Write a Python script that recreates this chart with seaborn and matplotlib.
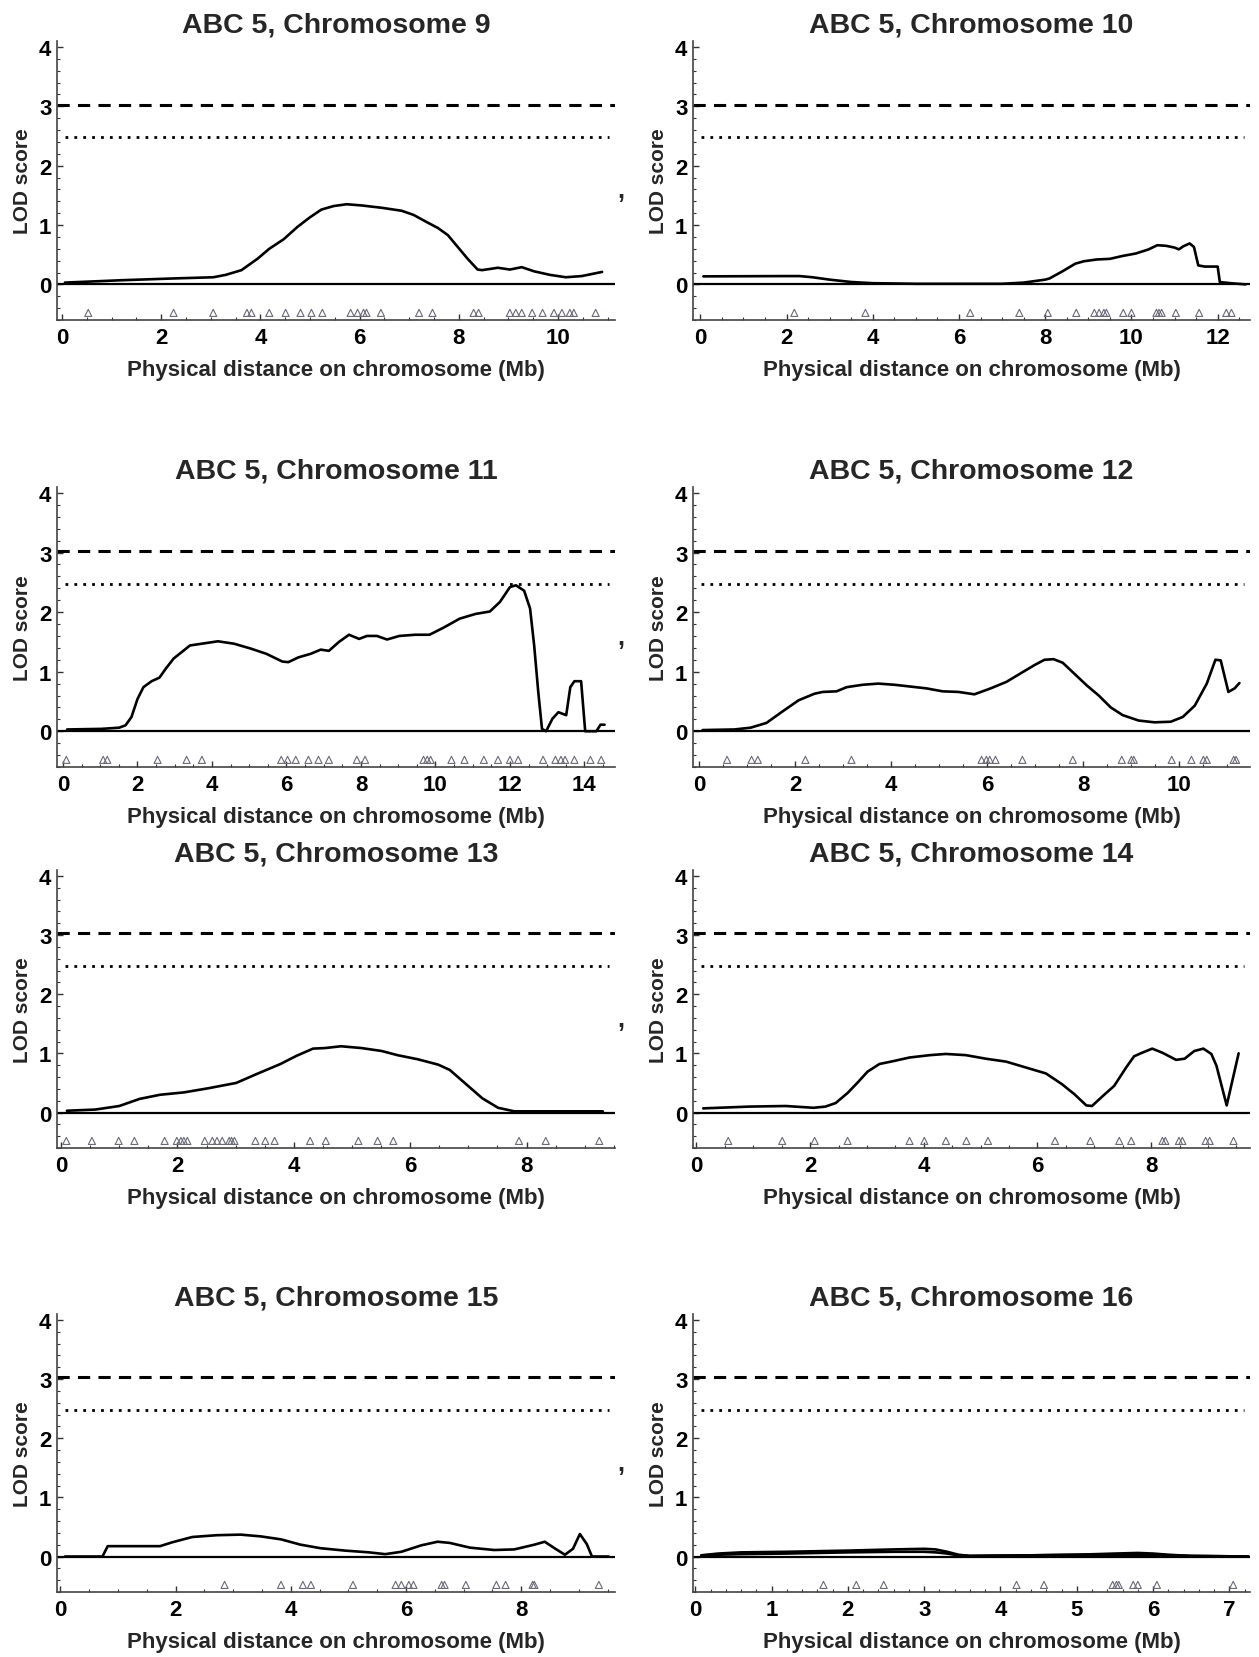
import matplotlib
matplotlib.use("Agg")
import matplotlib.pyplot as plt
from matplotlib.ticker import MultipleLocator
import numpy as np
import pandas as pd
import seaborn as sns

sns.set_style("ticks")
plt.rcParams["font.family"] = ["Liberation Sans", "DejaVu Sans"]
plt.rcParams["font.weight"] = "bold"

# significance thresholds (LOD)
thr_dashed = 3.03
thr_dotted = 2.48

# ---- chromosome 9
chr9_pos = [0.06, 1.2, 2.25, 3.05, 3.3, 3.62, 3.94, 4.18, 4.47, 4.75, 5.0, 5.23, 5.48, 5.74, 6.04,
            6.45, 6.85, 7.09, 7.33, 7.58, 7.78, 7.98, 8.18, 8.38, 8.47, 8.79, 9.03, 9.27, 9.52,
            9.84, 10.16, 10.48, 10.89]
chr9_lod = [0.03, 0.07, 0.10, 0.12, 0.16, 0.24, 0.43, 0.60, 0.76, 0.97, 1.13, 1.26, 1.32, 1.35, 1.33,
            1.29, 1.24, 1.17, 1.06, 0.95, 0.83, 0.63, 0.43, 0.25, 0.24, 0.28, 0.25, 0.29, 0.22,
            0.16, 0.12, 0.14, 0.21]
chr9_markers = [0.53, 2.25, 3.05, 3.73, 3.82, 4.18, 4.51, 4.81, 5.03, 5.25, 5.82, 5.96, 6.08, 6.14,
                6.43, 7.20, 7.47, 8.30, 8.40, 9.03, 9.15, 9.27, 9.48, 9.69, 9.92, 10.08, 10.24,
                10.32, 10.76]

# ---- chromosome 10
chr10_pos = [0.07, 2.0, 2.3, 2.6, 3.0, 3.5, 4.0, 5.0, 6.0, 7.0, 7.5, 8.0, 8.1, 8.4, 8.7, 8.9, 9.2,
             9.5, 9.8, 10.1, 10.4, 10.6, 10.8, 11.0, 11.1, 11.2, 11.35, 11.45, 11.55, 11.7, 12.0,
             12.05, 12.3, 12.65]
chr10_lod = [0.135, 0.14, 0.14, 0.12, 0.08, 0.04, 0.02, 0.01, 0.01, 0.01, 0.03, 0.08, 0.10, 0.22,
             0.35, 0.39, 0.42, 0.43, 0.48, 0.52, 0.59, 0.66, 0.65, 0.62, 0.59, 0.64, 0.69, 0.63,
             0.32, 0.30, 0.30, 0.04, 0.02, 0.0]
chr10_markers = [2.18, 3.83, 6.26, 7.40, 8.06, 8.72, 9.14, 9.25, 9.36, 9.42, 9.81, 10.00, 10.58,
                 10.64, 10.70, 11.03, 11.57, 12.20, 12.32]

# ---- chromosome 11
chr11_pos = [0.11, 1.03, 1.51, 1.68, 1.84, 2.0, 2.16, 2.38, 2.59, 2.76, 2.97, 3.19, 3.41, 3.73,
             4.16, 4.59, 5.03, 5.46, 5.89, 6.05, 6.32, 6.65, 6.92, 7.14, 7.41, 7.68, 7.95, 8.16,
             8.43, 8.70, 9.03, 9.46, 9.84, 10.22, 10.65, 11.08, 11.46, 11.73, 12.0, 12.16, 12.38,
             12.54, 12.65, 12.76, 12.86, 12.97, 13.14, 13.3, 13.51, 13.62, 13.73, 13.91, 14.02,
             14.32, 14.43, 14.54]
chr11_lod = [0.03, 0.04, 0.06, 0.10, 0.24, 0.54, 0.74, 0.84, 0.90, 1.05, 1.22, 1.33, 1.44, 1.47,
             1.51, 1.47, 1.39, 1.30, 1.17, 1.16, 1.24, 1.30, 1.37, 1.35, 1.50, 1.62, 1.55, 1.60,
             1.60, 1.54, 1.60, 1.62, 1.62, 1.74, 1.89, 1.97, 2.01, 2.17, 2.42, 2.45, 2.36, 2.06,
             1.44, 0.66, 0.04, 0.0, 0.21, 0.32, 0.27, 0.74, 0.84, 0.84, 0.0, 0.0, 0.11, 0.11]
chr11_markers = [0.09, 1.08, 1.19, 2.54, 3.32, 3.73, 5.86, 6.03, 6.25, 6.59, 6.86, 7.14, 7.89,
                 8.11, 9.68, 9.78, 9.87, 10.43, 10.78, 11.30, 11.68, 12.00, 12.22, 12.89, 13.22,
                 13.37, 13.48, 13.73, 14.16, 14.45]

# ---- chromosome 12
chr12_pos = [0.07, 0.73, 1.07, 1.4, 1.73, 2.07, 2.4, 2.57, 2.86, 3.07, 3.4, 3.73, 4.07, 4.4, 4.73,
             5.07, 5.4, 5.73, 6.07, 6.4, 6.73, 6.98, 7.19, 7.38, 7.57, 7.82, 8.07, 8.32, 8.57,
             8.82, 9.15, 9.48, 9.82, 10.07, 10.32, 10.57, 10.75, 10.86, 11.02, 11.15, 11.25]
chr12_lod = [0.02, 0.03, 0.06, 0.14, 0.33, 0.52, 0.63, 0.66, 0.67, 0.74, 0.78, 0.80, 0.78, 0.75,
             0.72, 0.67, 0.66, 0.62, 0.72, 0.83, 0.99, 1.11, 1.20, 1.21, 1.15, 0.96, 0.77, 0.60,
             0.40, 0.27, 0.18, 0.15, 0.16, 0.24, 0.43, 0.80, 1.20, 1.19, 0.66, 0.72, 0.81]
chr12_markers = [0.58, 1.09, 1.22, 2.21, 3.17, 5.88, 5.98, 6.05, 6.17, 6.73, 7.78, 8.80, 9.00,
                 9.05, 9.84, 10.25, 10.50, 10.57, 11.13, 11.18]

# ---- chromosome 13
chr13_pos = [0.1, 0.59, 1.0, 1.35, 1.7, 2.11, 2.53, 3.01, 3.36, 3.77, 4.05, 4.33, 4.54, 4.81,
             5.16, 5.51, 5.78, 6.13, 6.48, 6.68, 6.96, 7.24, 7.51, 7.79, 8.28, 9.31]
chr13_lod = [0.03, 0.05, 0.11, 0.23, 0.30, 0.34, 0.41, 0.50, 0.65, 0.82, 0.96, 1.08, 1.09, 1.12,
             1.09, 1.04, 0.97, 0.90, 0.81, 0.72, 0.48, 0.24, 0.08, 0.02, 0.02, 0.02]
chr13_markers = [0.09, 0.53, 0.99, 1.26, 1.78, 1.99, 2.06, 2.11, 2.17, 2.47, 2.60, 2.68, 2.77,
                 2.89, 2.93, 2.98, 3.34, 3.51, 3.67, 4.28, 4.55, 5.11, 5.44, 5.71, 7.87, 8.33, 9.25]

# ---- chromosome 14
chr14_pos = [0.12, 0.93, 1.57, 2.06, 2.27, 2.45, 2.66, 2.84, 3.01, 3.22, 3.47, 3.75, 4.11, 4.39,
             4.74, 5.09, 5.45, 5.80, 6.15, 6.43, 6.65, 6.86, 6.96, 7.14, 7.35, 7.56, 7.70, 7.84,
             8.02, 8.2, 8.44, 8.59, 8.76, 8.92, 9.06, 9.15, 9.33, 9.54]
chr14_lod = [0.07, 0.10, 0.11, 0.08, 0.10, 0.16, 0.33, 0.51, 0.69, 0.82, 0.87, 0.93, 0.97, 0.99,
             0.97, 0.91, 0.86, 0.76, 0.66, 0.48, 0.31, 0.12, 0.11, 0.27, 0.45, 0.76, 0.95, 1.01,
             1.08, 1.01, 0.89, 0.91, 1.04, 1.08, 0.99, 0.79, 0.12, 1.00]
chr14_markers = [0.56, 1.51, 2.08, 2.66, 3.75, 4.01, 4.39, 4.75, 5.13, 6.31, 6.93, 7.44, 7.65,
                 8.20, 8.25, 8.49, 8.55, 8.96, 9.03, 9.45]

# ---- chromosome 15
chr15_pos = [0.08, 0.73, 0.82, 1.73, 1.94, 2.29, 2.71, 3.13, 3.48, 3.83, 4.17, 4.52, 4.94, 5.36,
             5.64, 5.92, 6.27, 6.55, 6.76, 7.11, 7.53, 7.88, 8.23, 8.41, 8.58, 8.76, 8.9, 9.02,
             9.14, 9.23, 9.52]
chr15_lod = [0.0, 0.0, 0.175, 0.175, 0.24, 0.33, 0.36, 0.37, 0.34, 0.29, 0.20, 0.14, 0.10, 0.07,
             0.04, 0.08, 0.19, 0.25, 0.23, 0.15, 0.11, 0.12, 0.20, 0.25, 0.14, 0.03, 0.13, 0.38,
             0.21, 0.0, 0.0]
chr15_markers = [2.85, 3.83, 4.21, 4.35, 5.08, 5.82, 5.92, 6.05, 6.13, 6.62, 6.67, 7.04, 7.57,
                 7.73, 8.20, 8.23, 9.35]

# ---- chromosome 16 (two nearly overlapping traces)
chr16_pos = [0.08, 0.3, 0.6, 1.2, 2.0, 2.6, 3.0, 3.15, 3.3, 3.45, 3.6, 4.4, 5.0, 5.5, 5.8, 6.0,
             6.2, 6.5, 7.25]
chr16_lod_a = [0.02, 0.05, 0.07, 0.08, 0.10, 0.12, 0.13, 0.12, 0.08, 0.03, 0.01, 0.02, 0.03, 0.05,
               0.06, 0.05, 0.03, 0.01, 0.0]
chr16_lod_b = [0.02, 0.03, 0.04, 0.05, 0.07, 0.08, 0.08, 0.07, 0.05, 0.02, 0.01, 0.02, 0.03, 0.03,
               0.03, 0.03, 0.02, 0.01, 0.0]
chr16_markers = [1.68, 2.11, 2.47, 4.21, 4.57, 5.47, 5.52, 5.55, 5.74, 5.80, 6.05, 7.05]

panels = [
    ("ABC 5, Chromosome 9", [chr9_pos], [chr9_lod], chr9_markers, (-0.1, 11.15), 2, 0.5),
    ("ABC 5, Chromosome 10", [chr10_pos], [chr10_lod], chr10_markers, (-0.17, 12.75), 2, 0.5),
    ("ABC 5, Chromosome 11", [chr11_pos], [chr11_lod], chr11_markers, (-0.16, 14.82), 2, 0.5),
    ("ABC 5, Chromosome 12", [chr12_pos], [chr12_lod], chr12_markers, (-0.13, 11.47), 2, 0.5),
    ("ABC 5, Chromosome 13", [chr13_pos], [chr13_lod], chr13_markers, (-0.07, 9.52), 2, 0.5),
    ("ABC 5, Chromosome 14", [chr14_pos], [chr14_lod], chr14_markers, (-0.06, 9.74), 2, 0.5),
    ("ABC 5, Chromosome 15", [chr15_pos], [chr15_lod], chr15_markers, (-0.06, 9.63), 2, 0.5),
    ("ABC 5, Chromosome 16", [chr16_pos, chr16_pos], [chr16_lod_a, chr16_lod_b], chr16_markers,
     (-0.03, 7.27), 1, 0.2),
]

W, H = 1259, 1658
fig = plt.figure(figsize=(W / 100, H / 100), dpi=100)

col_px = [(57, 615), (693, 1250)]
row_px = [(42, 321), (488, 768), (871, 1149), (1315, 1593)]

for i, (title, xs, ys, markers, xlim, major, minor) in enumerate(panels):
    r, c = divmod(i, 2)
    x0, x1 = col_px[c]
    t, b = row_px[r]
    ax = fig.add_axes([x0 / W, 1 - b / H, (x1 - x0) / W, (b - t) / H])

    for xv, yv in zip(xs, ys):
        df = pd.DataFrame({"pos": xv, "lod": yv})
        sns.lineplot(data=df, x="pos", y="lod", ax=ax, color="black", lw=1.9,
                     estimator=None, sort=False)

    mk = pd.DataFrame({"pos": markers, "y": [-0.48] * len(markers)})
    sns.scatterplot(data=mk, x="pos", y="y", ax=ax, marker="^", s=26,
                    facecolor="none", edgecolor="#6a6a78", linewidth=0.8, zorder=3)

    ax.axhline(0, color="black", lw=1.6)
    ax.axhline(thr_dashed, color="black", lw=2.2, ls=(0, (4, 2.7)), dash_capstyle="butt")
    ax.axhline(thr_dotted, color="black", lw=2.0, ls=(0, (1, 2.2)), dash_capstyle="butt",
               xmin=0.014, xmax=0.99)

    ax.set_xlim(*xlim)
    ax.set_ylim(-0.6, 4.1)
    ax.xaxis.set_major_locator(MultipleLocator(major))
    ax.xaxis.set_minor_locator(MultipleLocator(minor))
    ax.yaxis.set_major_locator(MultipleLocator(1))
    ax.yaxis.set_minor_locator(MultipleLocator(0.2))
    ax.tick_params(which="major", direction="in", length=4, width=1, colors="#333333",
                   labelsize=16, labelcolor="black", pad=4)
    ax.tick_params(which="minor", direction="in", length=2.5, width=0.8, colors="#333333")
    ax.tick_params(axis="x", which="major", pad=5)
    for lab in ax.get_xticklabels() + ax.get_yticklabels():
        lab.set_fontweight("bold")

    sns.despine(ax=ax)
    for s in ("left", "bottom"):
        ax.spines[s].set_linewidth(1.2)
        ax.spines[s].set_color("#444444")

    ax.set_title(title, fontsize=20.5, fontweight="bold", pad=7)
    ax.set_xlabel("Physical distance on chromosome (Mb)", fontsize=16, fontweight="bold",
                  labelpad=8)
    ax.set_ylabel("LOD score", fontsize=15, fontweight="bold", labelpad=5)

    if c == 0:
        fig.text(621 / W, 1 - ((t + b) / 2 + 17) / H, ",", fontsize=18, fontweight="bold",
                 ha="center", va="baseline")

fig.savefig("out.png", dpi=100)
